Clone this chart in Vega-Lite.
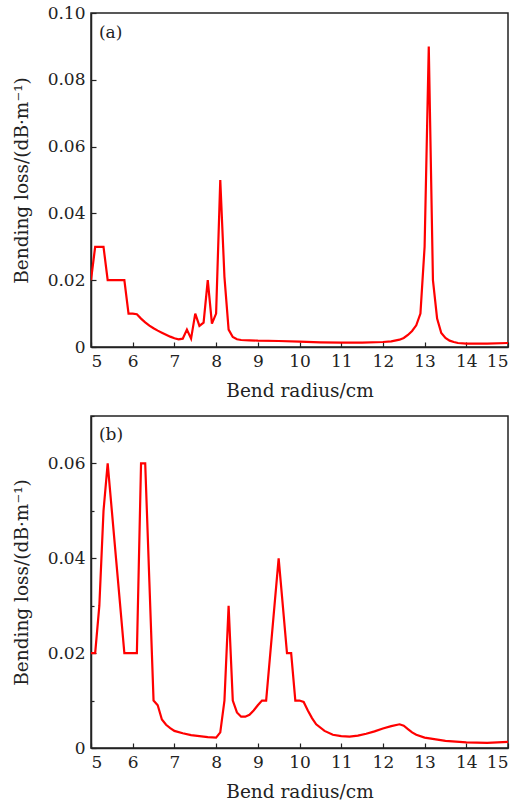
{
  "$schema": "https://vega.github.io/schema/vega-lite/v6.json",
  "padding": {"left": 11, "top": 3, "right": 0, "bottom": 0},
  "spacing": 13,
  "config": {
    "font": "DejaVu Serif",
    "view": {"stroke": "#222", "strokeWidth": 1.5},
    "axis": {
      "grid": false,
      "domainColor": "#222",
      "domainWidth": 1.5,
      "tickColor": "#222",
      "tickWidth": 1.2,
      "labelColor": "#222",
      "titleColor": "#222",
      "labelFont": "DejaVu Serif",
      "titleFont": "DejaVu Serif",
      "labelFontSize": 17,
      "titleFontSize": 18.5,
      "titleFontWeight": "normal",
      "labelPadding": 11
    }
  },
  "datasets": {
    "a": [
      {"r": 5.0, "loss": 0.020}, {"r": 5.1, "loss": 0.030}, {"r": 5.2, "loss": 0.030}, {"r": 5.3, "loss": 0.030},
      {"r": 5.4, "loss": 0.020}, {"r": 5.5, "loss": 0.020}, {"r": 5.6, "loss": 0.020}, {"r": 5.7, "loss": 0.020},
      {"r": 5.8, "loss": 0.020}, {"r": 5.9, "loss": 0.010}, {"r": 6.0, "loss": 0.010}, {"r": 6.1, "loss": 0.0098},
      {"r": 6.2, "loss": 0.0085}, {"r": 6.3, "loss": 0.0074}, {"r": 6.4, "loss": 0.0064}, {"r": 6.5, "loss": 0.0056},
      {"r": 6.6, "loss": 0.0049}, {"r": 6.7, "loss": 0.0043}, {"r": 6.8, "loss": 0.0037}, {"r": 6.9, "loss": 0.0031},
      {"r": 7.0, "loss": 0.0026}, {"r": 7.1, "loss": 0.0023}, {"r": 7.2, "loss": 0.0025}, {"r": 7.3, "loss": 0.0052},
      {"r": 7.4, "loss": 0.0025}, {"r": 7.5, "loss": 0.010}, {"r": 7.6, "loss": 0.0063}, {"r": 7.7, "loss": 0.0073},
      {"r": 7.8, "loss": 0.020}, {"r": 7.9, "loss": 0.007}, {"r": 8.0, "loss": 0.010}, {"r": 8.1, "loss": 0.050},
      {"r": 8.2, "loss": 0.021}, {"r": 8.3, "loss": 0.0052}, {"r": 8.4, "loss": 0.0030}, {"r": 8.5, "loss": 0.0023},
      {"r": 8.6, "loss": 0.0021}, {"r": 8.8, "loss": 0.0020}, {"r": 9.0, "loss": 0.0019}, {"r": 9.5, "loss": 0.0018},
      {"r": 10.0, "loss": 0.0016}, {"r": 10.5, "loss": 0.0014}, {"r": 11.0, "loss": 0.0013}, {"r": 11.5, "loss": 0.0013},
      {"r": 12.0, "loss": 0.0015}, {"r": 12.2, "loss": 0.0017}, {"r": 12.4, "loss": 0.0022}, {"r": 12.5, "loss": 0.0027},
      {"r": 12.6, "loss": 0.0036}, {"r": 12.7, "loss": 0.0048}, {"r": 12.8, "loss": 0.0065}, {"r": 12.9, "loss": 0.010},
      {"r": 13.0, "loss": 0.030}, {"r": 13.1, "loss": 0.090}, {"r": 13.2, "loss": 0.020}, {"r": 13.3, "loss": 0.0085},
      {"r": 13.4, "loss": 0.0042}, {"r": 13.5, "loss": 0.0027}, {"r": 13.6, "loss": 0.0019}, {"r": 13.7, "loss": 0.0015},
      {"r": 13.8, "loss": 0.0012}, {"r": 14.0, "loss": 0.0010}, {"r": 14.5, "loss": 0.0010}, {"r": 15.0, "loss": 0.0012}
    ],
    "b": [
      {"r": 5.0, "loss": 0.020}, {"r": 5.1, "loss": 0.020}, {"r": 5.2, "loss": 0.030}, {"r": 5.3, "loss": 0.050},
      {"r": 5.4, "loss": 0.060}, {"r": 5.5, "loss": 0.050}, {"r": 5.6, "loss": 0.040}, {"r": 5.7, "loss": 0.030},
      {"r": 5.8, "loss": 0.020}, {"r": 5.9, "loss": 0.020}, {"r": 6.0, "loss": 0.020}, {"r": 6.1, "loss": 0.020},
      {"r": 6.2, "loss": 0.060}, {"r": 6.3, "loss": 0.060}, {"r": 6.4, "loss": 0.035}, {"r": 6.5, "loss": 0.010},
      {"r": 6.6, "loss": 0.009}, {"r": 6.7, "loss": 0.006}, {"r": 6.8, "loss": 0.0049}, {"r": 6.9, "loss": 0.0042},
      {"r": 7.0, "loss": 0.0036}, {"r": 7.2, "loss": 0.0031}, {"r": 7.4, "loss": 0.0027}, {"r": 7.6, "loss": 0.0025},
      {"r": 7.8, "loss": 0.0023}, {"r": 8.0, "loss": 0.0022}, {"r": 8.1, "loss": 0.0033}, {"r": 8.2, "loss": 0.010},
      {"r": 8.3, "loss": 0.030}, {"r": 8.4, "loss": 0.010}, {"r": 8.5, "loss": 0.0075}, {"r": 8.6, "loss": 0.0066},
      {"r": 8.7, "loss": 0.0066}, {"r": 8.8, "loss": 0.0070}, {"r": 8.9, "loss": 0.0079}, {"r": 9.0, "loss": 0.0090},
      {"r": 9.1, "loss": 0.010}, {"r": 9.2, "loss": 0.010}, {"r": 9.3, "loss": 0.020}, {"r": 9.4, "loss": 0.030},
      {"r": 9.5, "loss": 0.040}, {"r": 9.6, "loss": 0.030}, {"r": 9.7, "loss": 0.020}, {"r": 9.8, "loss": 0.020},
      {"r": 9.9, "loss": 0.010}, {"r": 10.0, "loss": 0.010}, {"r": 10.1, "loss": 0.0097}, {"r": 10.2, "loss": 0.0079},
      {"r": 10.3, "loss": 0.0063}, {"r": 10.4, "loss": 0.0050}, {"r": 10.6, "loss": 0.0036}, {"r": 10.8, "loss": 0.0028},
      {"r": 11.0, "loss": 0.0025}, {"r": 11.2, "loss": 0.0024}, {"r": 11.4, "loss": 0.0026}, {"r": 11.6, "loss": 0.0030},
      {"r": 11.8, "loss": 0.0035}, {"r": 12.0, "loss": 0.0041}, {"r": 12.2, "loss": 0.0046}, {"r": 12.4, "loss": 0.0050},
      {"r": 12.5, "loss": 0.0047}, {"r": 12.6, "loss": 0.0040}, {"r": 12.7, "loss": 0.0033}, {"r": 12.8, "loss": 0.0028},
      {"r": 13.0, "loss": 0.0022}, {"r": 13.5, "loss": 0.0015}, {"r": 14.0, "loss": 0.0012}, {"r": 14.5, "loss": 0.0011},
      {"r": 15.0, "loss": 0.0013}
    ]
  },
  "vconcat": [
    {
      "width": 417,
      "height": 334,
      "layer": [
        {
          "data": {"name": "a"},
          "mark": {"type": "line", "color": "#ff0000", "strokeWidth": 2.2, "clip": true},
          "encoding": {
            "x": {
              "field": "r", "type": "quantitative",
              "scale": {"domain": [5, 15], "nice": false, "zero": false},
              "axis": {
                "title": "Bend radius/cm",
                "values": [5, 5.5, 6, 6.5, 7, 7.5, 8, 8.5, 9, 9.5, 10, 10.5, 11, 11.5, 12, 12.5, 13, 13.5, 14, 14.5, 15],
                "labelExpr": "datum.value % 1 === 0 ? datum.label : ''",
                "tickSize": {"condition": {"test": "datum.value % 1 === 0", "value": -5}, "value": -3},
                "titlePadding": 12
              }
            },
            "y": {
              "field": "loss", "type": "quantitative",
              "scale": {"domain": [0, 0.1], "nice": false},
              "axis": {
                "title": "Bending loss/(dB·m⁻¹)",
                "values": [0, 0.01, 0.02, 0.03, 0.04, 0.05, 0.06, 0.07, 0.08, 0.09, 0.1],
                "labelExpr": "round(datum.value * 100) % 2 === 0 ? (datum.value === 0 ? '0' : format(datum.value, '.2f')) : ''",
                "tickSize": {"condition": {"test": "round(datum.value * 100) % 2 === 0", "value": -5}, "value": -3},
                "titlePadding": 16
              }
            }
          }
        },
        {
          "data": {"values": [{}]},
          "mark": {"type": "text", "text": "(a)", "align": "left", "baseline": "middle", "fontSize": 17, "color": "#222"},
          "encoding": {
            "x": {"datum": 5.19, "type": "quantitative"},
            "y": {"datum": 0.094, "type": "quantitative"}
          }
        }
      ]
    },
    {
      "width": 417,
      "height": 332,
      "layer": [
        {
          "data": {"name": "b"},
          "mark": {"type": "line", "color": "#ff0000", "strokeWidth": 2.2, "clip": true},
          "encoding": {
            "x": {
              "field": "r", "type": "quantitative",
              "scale": {"domain": [5, 15], "nice": false, "zero": false},
              "axis": {
                "title": "Bend radius/cm",
                "values": [5, 5.5, 6, 6.5, 7, 7.5, 8, 8.5, 9, 9.5, 10, 10.5, 11, 11.5, 12, 12.5, 13, 13.5, 14, 14.5, 15],
                "labelExpr": "datum.value % 1 === 0 ? datum.label : ''",
                "tickSize": {"condition": {"test": "datum.value % 1 === 0", "value": -5}, "value": -3},
                "titlePadding": 12
              }
            },
            "y": {
              "field": "loss", "type": "quantitative",
              "scale": {"domain": [0, 0.07], "nice": false},
              "axis": {
                "title": "Bending loss/(dB·m⁻¹)",
                "values": [0, 0.01, 0.02, 0.03, 0.04, 0.05, 0.06, 0.07],
                "labelExpr": "round(datum.value * 100) % 2 === 0 ? (datum.value === 0 ? '0' : format(datum.value, '.2f')) : ''",
                "tickSize": {"condition": {"test": "round(datum.value * 100) % 2 === 0", "value": -5}, "value": -3},
                "titlePadding": 16
              }
            }
          }
        },
        {
          "data": {"values": [{}]},
          "mark": {"type": "text", "text": "(b)", "align": "left", "baseline": "middle", "fontSize": 17, "color": "#222"},
          "encoding": {
            "x": {"datum": 5.19, "type": "quantitative"},
            "y": {"datum": 0.066, "type": "quantitative"}
          }
        }
      ]
    }
  ]
}
